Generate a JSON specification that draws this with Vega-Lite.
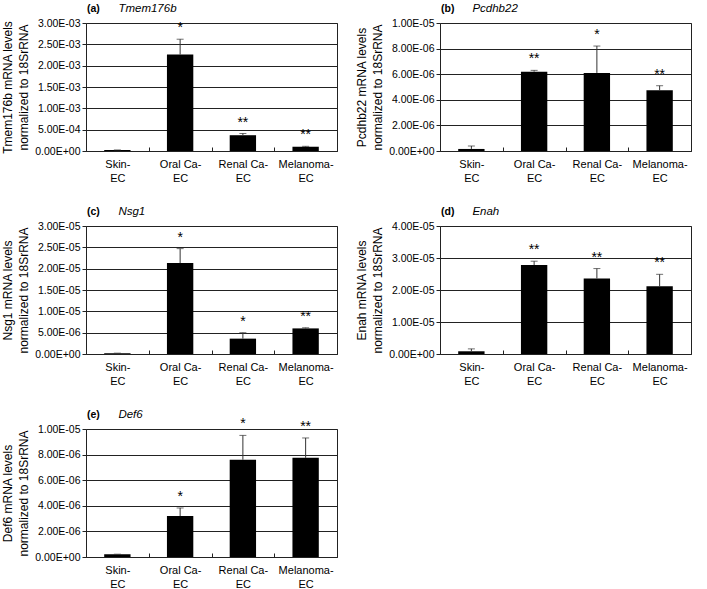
{
  "$schema": "https://vega.github.io/schema/vega-lite/v6.json",
  "padding": {"left": 1, "top": 2, "right": 0, "bottom": 0},
  "background": "white",
  "config": {
    "font": "Liberation Sans",
    "view": {"stroke": "#222", "strokeWidth": 1},
    "axis": {"labelFont": "Liberation Sans", "titleFont": "Liberation Sans", "labelColor": "#000", "titleColor": "#000", "titleFontWeight": "normal", "titleFontSize": 12, "domain": false},
    "axisX": {"grid": false, "tickBand": "extent", "tickSize": -4, "tickColor": "#222", "labelAngle": 0, "labelFontSize": 11, "labelLineHeight": 14, "labelPadding": 11, "title": null},
    "axisY": {"grid": true, "gridColor": "#222", "gridOpacity": 1, "tickSize": 4, "tickColor": "#222", "labelFontSize": 10.5, "labelPadding": 2, "titleLineHeight": 16, "titlePadding": 4}
  },
  "columns": 2,
  "spacing": {"column": 17, "row": 21},
  "concat": [
    {
      "width": 251, "height": 128,
      "data": {"values": [
        {"cat": "Skin-", "mean": 0.000025, "upper": 0.000025, "sig": ""},
        {"cat": "Oral Ca-", "mean": 0.00226, "upper": 0.00262, "sig": "*"},
        {"cat": "Renal Ca-", "mean": 0.00037, "upper": 0.00041, "sig": "**"},
        {"cat": "Melanoma-", "mean": 0.0001, "upper": 0.00011, "sig": "**"}
      ]},
      "encoding": {
        "x": {"field": "cat", "type": "nominal", "sort": null, "scale": {"paddingInner": 0, "paddingOuter": 0}, "axis": {"labelExpr": "indexof(['Skin-','Oral Ca-','Renal Ca-','Melanoma-'], datum.label) >= 0 ? [datum.label, 'EC'] : ''", "encode": {"ticks": {"update": {"y": {"value": 0}, "y2": {"value": -4}}}}}},
        "y": {"type": "quantitative", "scale": {"domain": [0, 0.003], "nice": false}, "axis": {"values": [0, 0.0005, 0.001, 0.0015, 0.002, 0.0025, 0.003], "labelExpr": "replace(replace(upper(format(datum.value, '.2e')), 'E-', 'E-0'), 'E+', 'E+0')", "title": ["Tmem176b mRNA levels", "normalized to 18SrRNA"]}}
      },
      "layer": [
        {"mark": {"type": "bar", "color": "#000", "width": {"band": 0.42}}, "encoding": {"y": {"field": "mean", "type": "quantitative"}}},
        {"mark": {"type": "rule", "color": "#333", "strokeWidth": 1}, "encoding": {"y": {"field": "mean", "type": "quantitative"}, "y2": {"field": "upper"}}},
        {"mark": {"type": "tick", "color": "#333", "thickness": 1, "size": 7, "orient": "horizontal"}, "encoding": {"y": {"field": "upper", "type": "quantitative"}}},
        {"mark": {"type": "text", "fontSize": 14, "baseline": "alphabetic", "dy": -7, "color": "#000"}, "encoding": {"y": {"field": "upper", "type": "quantitative"}, "text": {"field": "sig"}}},
        {"data": {"values": [{"gene": "Tmem176b", "panel": "(a)", "cat": "Skin-", "top": 0.003}]}, "layer": [
          {"mark": {"type": "text", "fontSize": 11.5, "fontStyle": "italic", "align": "left", "baseline": "alphabetic", "dy": -11, "dx": 1, "color": "#000"}, "encoding": {"y": {"field": "top", "type": "quantitative"}, "text": {"field": "gene"}}},
          {"mark": {"type": "text", "fontSize": 10.5, "fontWeight": "bold", "align": "left", "baseline": "alphabetic", "dy": -11, "dx": 1, "color": "#000"}, "encoding": {"x": {"field": "cat", "type": "nominal", "bandPosition": 0}, "y": {"field": "top", "type": "quantitative"}, "text": {"field": "panel"}}}
        ]}
      ]
    },
    {
      "width": 251, "height": 128,
      "data": {"values": [
        {"cat": "Skin-", "mean": 0.00000016, "upper": 0.00000039, "sig": ""},
        {"cat": "Oral Ca-", "mean": 0.0000062, "upper": 0.0000063, "sig": "**"},
        {"cat": "Renal Ca-", "mean": 0.0000061, "upper": 0.0000082, "sig": "*"},
        {"cat": "Melanoma-", "mean": 0.00000475, "upper": 0.0000051, "sig": "**"}
      ]},
      "encoding": {
        "x": {"field": "cat", "type": "nominal", "sort": null, "scale": {"paddingInner": 0, "paddingOuter": 0}, "axis": {"labelExpr": "indexof(['Skin-','Oral Ca-','Renal Ca-','Melanoma-'], datum.label) >= 0 ? [datum.label, 'EC'] : ''", "encode": {"ticks": {"update": {"y": {"value": 0}, "y2": {"value": -4}}}}}},
        "y": {"type": "quantitative", "scale": {"domain": [0, 0.00001], "nice": false}, "axis": {"values": [0, 0.000002, 0.000004, 0.000006, 0.000008, 0.00001], "labelExpr": "replace(replace(upper(format(datum.value, '.2e')), 'E-', 'E-0'), 'E+', 'E+0')", "title": ["Pcdhb22  mRNA levels", "normalized to 18SrRNA"]}}
      },
      "layer": [
        {"mark": {"type": "bar", "color": "#000", "width": {"band": 0.42}}, "encoding": {"y": {"field": "mean", "type": "quantitative"}}},
        {"mark": {"type": "rule", "color": "#333", "strokeWidth": 1}, "encoding": {"y": {"field": "mean", "type": "quantitative"}, "y2": {"field": "upper"}}},
        {"mark": {"type": "tick", "color": "#333", "thickness": 1, "size": 7, "orient": "horizontal"}, "encoding": {"y": {"field": "upper", "type": "quantitative"}}},
        {"mark": {"type": "text", "fontSize": 14, "baseline": "alphabetic", "dy": -7, "color": "#000"}, "encoding": {"y": {"field": "upper", "type": "quantitative"}, "text": {"field": "sig"}}},
        {"data": {"values": [{"gene": "Pcdhb22", "panel": "(b)", "cat": "Skin-", "top": 0.00001}]}, "layer": [
          {"mark": {"type": "text", "fontSize": 11.5, "fontStyle": "italic", "align": "left", "baseline": "alphabetic", "dy": -11, "dx": 1, "color": "#000"}, "encoding": {"y": {"field": "top", "type": "quantitative"}, "text": {"field": "gene"}}},
          {"mark": {"type": "text", "fontSize": 10.5, "fontWeight": "bold", "align": "left", "baseline": "alphabetic", "dy": -11, "dx": 1, "color": "#000"}, "encoding": {"x": {"field": "cat", "type": "nominal", "bandPosition": 0}, "y": {"field": "top", "type": "quantitative"}, "text": {"field": "panel"}}}
        ]}
      ]
    },
    {
      "width": 251, "height": 128,
      "data": {"values": [
        {"cat": "Skin-", "mean": 0.0000002, "upper": 0.0000002, "sig": ""},
        {"cat": "Oral Ca-", "mean": 0.0000213, "upper": 0.0000247, "sig": "*"},
        {"cat": "Renal Ca-", "mean": 0.0000036, "upper": 0.000005, "sig": "*"},
        {"cat": "Melanoma-", "mean": 0.000006, "upper": 0.00000615, "sig": "**"}
      ]},
      "encoding": {
        "x": {"field": "cat", "type": "nominal", "sort": null, "scale": {"paddingInner": 0, "paddingOuter": 0}, "axis": {"labelExpr": "indexof(['Skin-','Oral Ca-','Renal Ca-','Melanoma-'], datum.label) >= 0 ? [datum.label, 'EC'] : ''", "encode": {"ticks": {"update": {"y": {"value": 0}, "y2": {"value": -4}}}}}},
        "y": {"type": "quantitative", "scale": {"domain": [0, 0.00003], "nice": false}, "axis": {"values": [0, 0.000005, 0.00001, 0.000015, 0.00002, 0.000025, 0.00003], "labelExpr": "replace(replace(upper(format(datum.value, '.2e')), 'E-', 'E-0'), 'E+', 'E+0')", "title": ["Nsg1 mRNA levels", "normalized to 18SrRNA"]}}
      },
      "layer": [
        {"mark": {"type": "bar", "color": "#000", "width": {"band": 0.42}}, "encoding": {"y": {"field": "mean", "type": "quantitative"}}},
        {"mark": {"type": "rule", "color": "#333", "strokeWidth": 1}, "encoding": {"y": {"field": "mean", "type": "quantitative"}, "y2": {"field": "upper"}}},
        {"mark": {"type": "tick", "color": "#333", "thickness": 1, "size": 7, "orient": "horizontal"}, "encoding": {"y": {"field": "upper", "type": "quantitative"}}},
        {"mark": {"type": "text", "fontSize": 14, "baseline": "alphabetic", "dy": -7, "color": "#000"}, "encoding": {"y": {"field": "upper", "type": "quantitative"}, "text": {"field": "sig"}}},
        {"data": {"values": [{"gene": "Nsg1", "panel": "(c)", "cat": "Skin-", "top": 0.00003}]}, "layer": [
          {"mark": {"type": "text", "fontSize": 11.5, "fontStyle": "italic", "align": "left", "baseline": "alphabetic", "dy": -11, "dx": 1, "color": "#000"}, "encoding": {"y": {"field": "top", "type": "quantitative"}, "text": {"field": "gene"}}},
          {"mark": {"type": "text", "fontSize": 10.5, "fontWeight": "bold", "align": "left", "baseline": "alphabetic", "dy": -11, "dx": 1, "color": "#000"}, "encoding": {"x": {"field": "cat", "type": "nominal", "bandPosition": 0}, "y": {"field": "top", "type": "quantitative"}, "text": {"field": "panel"}}}
        ]}
      ]
    },
    {
      "width": 251, "height": 128,
      "data": {"values": [
        {"cat": "Skin-", "mean": 0.00000085, "upper": 0.0000016, "sig": ""},
        {"cat": "Oral Ca-", "mean": 0.0000278, "upper": 0.000029, "sig": "**"},
        {"cat": "Renal Ca-", "mean": 0.0000236, "upper": 0.0000267, "sig": "**"},
        {"cat": "Melanoma-", "mean": 0.0000212, "upper": 0.0000249, "sig": "**"}
      ]},
      "encoding": {
        "x": {"field": "cat", "type": "nominal", "sort": null, "scale": {"paddingInner": 0, "paddingOuter": 0}, "axis": {"labelExpr": "indexof(['Skin-','Oral Ca-','Renal Ca-','Melanoma-'], datum.label) >= 0 ? [datum.label, 'EC'] : ''", "encode": {"ticks": {"update": {"y": {"value": 0}, "y2": {"value": -4}}}}}},
        "y": {"type": "quantitative", "scale": {"domain": [0, 0.00004], "nice": false}, "axis": {"values": [0, 0.00001, 0.00002, 0.00003, 0.00004], "labelExpr": "replace(replace(upper(format(datum.value, '.2e')), 'E-', 'E-0'), 'E+', 'E+0')", "title": ["Enah mRNA levels", "normalized to 18SrRNA"]}}
      },
      "layer": [
        {"mark": {"type": "bar", "color": "#000", "width": {"band": 0.42}}, "encoding": {"y": {"field": "mean", "type": "quantitative"}}},
        {"mark": {"type": "rule", "color": "#333", "strokeWidth": 1}, "encoding": {"y": {"field": "mean", "type": "quantitative"}, "y2": {"field": "upper"}}},
        {"mark": {"type": "tick", "color": "#333", "thickness": 1, "size": 7, "orient": "horizontal"}, "encoding": {"y": {"field": "upper", "type": "quantitative"}}},
        {"mark": {"type": "text", "fontSize": 14, "baseline": "alphabetic", "dy": -7, "color": "#000"}, "encoding": {"y": {"field": "upper", "type": "quantitative"}, "text": {"field": "sig"}}},
        {"data": {"values": [{"gene": "Enah", "panel": "(d)", "cat": "Skin-", "top": 0.00004}]}, "layer": [
          {"mark": {"type": "text", "fontSize": 11.5, "fontStyle": "italic", "align": "left", "baseline": "alphabetic", "dy": -11, "dx": 1, "color": "#000"}, "encoding": {"y": {"field": "top", "type": "quantitative"}, "text": {"field": "gene"}}},
          {"mark": {"type": "text", "fontSize": 10.5, "fontWeight": "bold", "align": "left", "baseline": "alphabetic", "dy": -11, "dx": 1, "color": "#000"}, "encoding": {"x": {"field": "cat", "type": "nominal", "bandPosition": 0}, "y": {"field": "top", "type": "quantitative"}, "text": {"field": "panel"}}}
        ]}
      ]
    },
    {
      "width": 251, "height": 128,
      "data": {"values": [
        {"cat": "Skin-", "mean": 0.00000022, "upper": 0.00000022, "sig": ""},
        {"cat": "Oral Ca-", "mean": 0.0000032, "upper": 0.00000383, "sig": "*"},
        {"cat": "Renal Ca-", "mean": 0.0000076, "upper": 0.0000095, "sig": "*"},
        {"cat": "Melanoma-", "mean": 0.00000775, "upper": 0.0000093, "sig": "**"}
      ]},
      "encoding": {
        "x": {"field": "cat", "type": "nominal", "sort": null, "scale": {"paddingInner": 0, "paddingOuter": 0}, "axis": {"labelExpr": "indexof(['Skin-','Oral Ca-','Renal Ca-','Melanoma-'], datum.label) >= 0 ? [datum.label, 'EC'] : ''", "encode": {"ticks": {"update": {"y": {"value": 0}, "y2": {"value": -4}}}}}},
        "y": {"type": "quantitative", "scale": {"domain": [0, 0.00001], "nice": false}, "axis": {"values": [0, 0.000002, 0.000004, 0.000006, 0.000008, 0.00001], "labelExpr": "replace(replace(upper(format(datum.value, '.2e')), 'E-', 'E-0'), 'E+', 'E+0')", "title": ["Def6  mRNA levels", "normalized to 18SrRNA"]}}
      },
      "layer": [
        {"mark": {"type": "bar", "color": "#000", "width": {"band": 0.42}}, "encoding": {"y": {"field": "mean", "type": "quantitative"}}},
        {"mark": {"type": "rule", "color": "#333", "strokeWidth": 1}, "encoding": {"y": {"field": "mean", "type": "quantitative"}, "y2": {"field": "upper"}}},
        {"mark": {"type": "tick", "color": "#333", "thickness": 1, "size": 7, "orient": "horizontal"}, "encoding": {"y": {"field": "upper", "type": "quantitative"}}},
        {"mark": {"type": "text", "fontSize": 14, "baseline": "alphabetic", "dy": -7, "color": "#000"}, "encoding": {"y": {"field": "upper", "type": "quantitative"}, "text": {"field": "sig"}}},
        {"data": {"values": [{"gene": "Def6", "panel": "(e)", "cat": "Skin-", "top": 0.00001}]}, "layer": [
          {"mark": {"type": "text", "fontSize": 11.5, "fontStyle": "italic", "align": "left", "baseline": "alphabetic", "dy": -11, "dx": 1, "color": "#000"}, "encoding": {"y": {"field": "top", "type": "quantitative"}, "text": {"field": "gene"}}},
          {"mark": {"type": "text", "fontSize": 10.5, "fontWeight": "bold", "align": "left", "baseline": "alphabetic", "dy": -11, "dx": 1, "color": "#000"}, "encoding": {"x": {"field": "cat", "type": "nominal", "bandPosition": 0}, "y": {"field": "top", "type": "quantitative"}, "text": {"field": "panel"}}}
        ]}
      ]
    }
  ]
}
